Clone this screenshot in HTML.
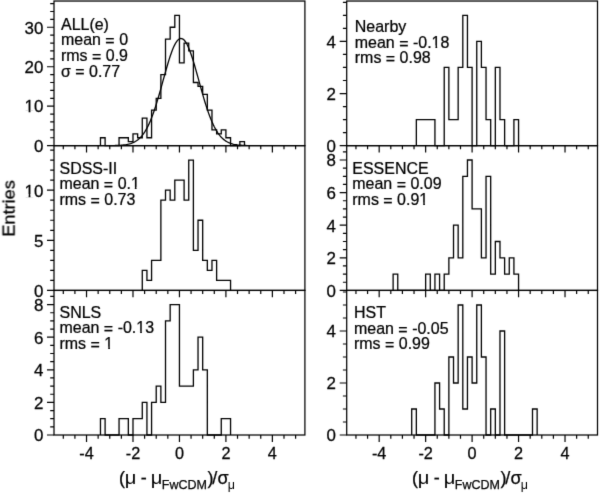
<!DOCTYPE html><html><head><meta charset="utf-8"><style>html,body{margin:0;padding:0;background:#fff;}svg{display:block;filter:grayscale(1);}text{font-family:"Liberation Sans",sans-serif;fill:#000;stroke:#000;stroke-width:0.25px;}</style></head><body>
<svg width="600" height="493" viewBox="0 0 600 493">
<filter id="soft" x="0" y="0" width="600" height="493" filterUnits="userSpaceOnUse" color-interpolation-filters="sRGB"><feConvolveMatrix order="3" kernelMatrix="0.0100 0.0800 0.0100 0.0800 0.6400 0.0800 0.0100 0.0800 0.0100" divisor="1" edgeMode="duplicate"/></filter>
<g filter="url(#soft)">
<rect width="600" height="493" fill="#fff"/>
<path d="M100.47 145.65V137.76H105.11V145.65H109.76V145.65H114.41V145.65H119.05V137.76H123.7V137.76H128.34V141.7H132.99V133.81H137.64V137.76H142.28V118.03H146.93V137.76H151.57V110.14H156.22V98.3H160.87V74.62H165.51V39.11H170.16V27.27H174.8V15.43H179.45V62.78H184.1V43.05H188.74V50.95H193.39V82.51H198.03V86.46H202.68V94.35H207.33V110.14H211.97V129.87H216.62V133.81H221.26V129.87H225.91V137.76H230.56V145.65H235.2V145.65H239.85V141.7H244.49V145.65" fill="none" stroke="#000" stroke-width="1.3" stroke-linejoin="miter"/>
<path d="M416.35 145.65V119.59H420.99V119.59H425.64V119.59H430.29V119.59H434.93V145.65H439.58V145.65H444.22V67.47H448.87V119.59H453.52V119.59H458.16V67.47H462.81V15.35H467.45V67.47H472.1V145.65H476.75V41.41H481.39V67.47H486.04V119.59H490.68V145.65H495.33V67.47H499.98V119.59H504.62V145.65H509.27V145.65H513.91V119.59H518.56V145.65" fill="none" stroke="#000" stroke-width="1.3" stroke-linejoin="miter"/>
<path d="M142.28 290.4V270.36H146.93V280.38H151.57V260.34H156.22V260.34H160.87V200.22H165.51V190.2H170.16V200.22H174.8V180.18H179.45V180.18H184.1V200.22H188.74V160.14H193.39V250.32H198.03V220.26H202.68V260.34H207.33V270.36H211.97V260.34H216.62V280.38H221.26V280.38H225.91V280.38H230.56V290.4" fill="none" stroke="#000" stroke-width="1.3" stroke-linejoin="miter"/>
<path d="M393.12 290.4V274.1H397.76V290.4H402.41V290.4H407.06V290.4H411.7V290.4H416.35V290.4H420.99V290.4H425.64V274.1H430.29V290.4H434.93V274.1H439.58V290.4H444.22V274.1H448.87V257.8H453.52V225.2H458.16V257.8H462.81V176.3H467.45V160H472.1V208.9H476.75V208.9H481.39V257.8H486.04V176.3H490.68V274.1H495.33V241.5H499.98V257.8H504.62V274.1H509.27V257.8H513.91V274.1H518.56V290.4" fill="none" stroke="#000" stroke-width="1.3" stroke-linejoin="miter"/>
<path d="M100.47 435V418.7H105.11V435H109.76V435H114.41V435H119.05V418.7H123.7V418.7H128.34V435H132.99V418.7H137.64V418.7H142.28V402.4H146.93V435H151.57V402.4H156.22V386.1H160.87V402.4H165.51V320.9H170.16V304.6H174.8V304.6H179.45V386.1H184.1V386.1H188.74V386.1H193.39V369.8H198.03V337.2H202.68V369.8H207.33V435H211.97V435H216.62V435H221.26V418.7H225.91V418.7H230.56V435" fill="none" stroke="#000" stroke-width="1.3" stroke-linejoin="miter"/>
<path d="M411.7 435V409H416.35V435H420.99V435H425.64V435H430.29V435H434.93V383H439.58V409H444.22V435H448.87V357H453.52V383H458.16V305H462.81V409H467.45V357H472.1V383H476.75V305H481.39V357H486.04V435H490.68V409H495.33V435H499.98V331H504.62V435H509.27V435H513.91V435H518.56V435H523.21V435H527.85V435H532.5V409H537.14V435" fill="none" stroke="#000" stroke-width="1.3" stroke-linejoin="miter"/>
<clipPath id="c0"><rect x="54" y="1.05" width="250.9" height="144.6"/></clipPath>
<path d="M95.82,145.65 L96.98,145.65 L98.14,145.65 L99.31,145.65 L100.47,145.65 L101.63,145.64 L102.79,145.64 L103.95,145.64 L105.11,145.64 L106.28,145.63 L107.44,145.63 L108.6,145.62 L109.76,145.61 L110.92,145.6 L112.08,145.59 L113.24,145.57 L114.41,145.54 L115.57,145.52 L116.73,145.48 L117.89,145.44 L119.05,145.38 L120.21,145.31 L121.37,145.23 L122.54,145.13 L123.7,145.01 L124.86,144.87 L126.02,144.69 L127.18,144.48 L128.34,144.23 L129.51,143.94 L130.67,143.59 L131.83,143.18 L132.99,142.71 L134.15,142.16 L135.31,141.52 L136.47,140.78 L137.64,139.94 L138.8,138.99 L139.96,137.9 L141.12,136.67 L142.28,135.3 L143.44,133.77 L144.6,132.06 L145.77,130.18 L146.93,128.1 L148.09,125.84 L149.25,123.37 L150.41,120.71 L151.57,117.84 L152.74,114.78 L153.9,111.52 L155.06,108.07 L156.22,104.46 L157.38,100.68 L158.54,96.76 L159.7,92.73 L160.87,88.61 L162.03,84.42 L163.19,80.2 L164.35,75.99 L165.51,71.81 L166.67,67.72 L167.83,63.74 L169,59.92 L170.16,56.31 L171.32,52.93 L172.48,49.83 L173.64,47.04 L174.8,44.6 L175.97,42.54 L177.13,40.87 L178.29,39.63 L179.45,38.82 L180.61,38.46 L181.77,38.55 L182.93,39.09 L184.1,40.07 L185.26,41.49 L186.42,43.32 L187.58,45.54 L188.74,48.12 L189.9,51.04 L191.06,54.25 L192.23,57.73 L193.39,61.43 L194.55,65.31 L195.71,69.34 L196.87,73.47 L198.03,77.67 L199.2,81.89 L200.36,86.1 L201.52,90.26 L202.68,94.36 L203.84,98.35 L205,102.21 L206.16,105.92 L207.33,109.47 L208.49,112.84 L209.65,116.03 L210.81,119.01 L211.97,121.8 L213.13,124.38 L214.29,126.77 L215.46,128.95 L216.62,130.95 L217.78,132.76 L218.94,134.4 L220.1,135.87 L221.26,137.18 L222.43,138.35 L223.59,139.38 L224.75,140.29 L225.91,141.09 L227.07,141.78 L228.23,142.39 L229.39,142.91 L230.56,143.35 L231.72,143.74 L232.88,144.06 L234.04,144.34 L235.2,144.57 L236.36,144.76 L237.52,144.93 L238.69,145.06 L239.85,145.18 L241.01,145.27 L242.17,145.34 L243.33,145.4 L244.49,145.45 L245.66,145.5 L246.82,145.53 L247.98,145.55 L249.14,145.57 L250.3,145.59 L251.46,145.6 L252.62,145.61 L253.79,145.62 L254.95,145.63 L256.11,145.63 L257.27,145.64 L258.43,145.64 L259.59,145.64 L260.75,145.64 L261.92,145.65 L263.08,145.65" fill="none" stroke="#000" stroke-width="1.3" clip-path="url(#c0)"/>
<path d="M47 145.65H54M50.2 137.76H54M50.2 129.87H54M50.2 121.97H54M50.2 114.08H54M47 106.19H54M50.2 98.3H54M50.2 90.41H54M50.2 82.51H54M50.2 74.62H54M47 66.73H54M50.2 58.84H54M50.2 50.95H54M50.2 43.05H54M50.2 35.16H54M47 27.27H54M50.2 19.38H54M50.2 11.49H54M50.2 3.59H54M63.3 145.65V149.35M74.91 145.65V149.35M86.53 145.65V152.55M98.14 145.65V149.35M109.76 145.65V149.35M121.37 145.65V149.35M132.99 145.65V152.55M144.6 145.65V149.35M156.22 145.65V149.35M167.83 145.65V149.35M179.45 145.65V152.55M191.06 145.65V149.35M202.68 145.65V149.35M214.29 145.65V149.35M225.91 145.65V152.55M237.52 145.65V149.35M249.14 145.65V149.35M260.75 145.65V149.35M272.37 145.65V152.55M283.99 145.65V149.35M295.6 145.65V149.35M339.7 145.65H346.7M342.9 132.62H346.7M342.9 119.59H346.7M342.9 106.56H346.7M339.7 93.53H346.7M342.9 80.5H346.7M342.9 67.47H346.7M342.9 54.44H346.7M339.7 41.41H346.7M342.9 28.38H346.7M342.9 15.35H346.7M342.9 2.32H346.7M355.95 145.65V149.35M367.57 145.65V149.35M379.18 145.65V152.55M390.8 145.65V149.35M402.41 145.65V149.35M414.03 145.65V149.35M425.64 145.65V152.55M437.25 145.65V149.35M448.87 145.65V149.35M460.49 145.65V149.35M472.1 145.65V152.55M483.72 145.65V149.35M495.33 145.65V149.35M506.95 145.65V149.35M518.56 145.65V152.55M530.18 145.65V149.35M541.79 145.65V149.35M553.4 145.65V149.35M565.02 145.65V152.55M576.63 145.65V149.35M588.25 145.65V149.35M47 290.4H54M50.2 280.38H54M50.2 270.36H54M50.2 260.34H54M50.2 250.32H54M47 240.3H54M50.2 230.28H54M50.2 220.26H54M50.2 210.24H54M50.2 200.22H54M47 190.2H54M50.2 180.18H54M50.2 170.16H54M50.2 160.14H54M50.2 150.12H54M63.3 290.4V294.1M74.91 290.4V294.1M86.53 290.4V297.3M98.14 290.4V294.1M109.76 290.4V294.1M121.37 290.4V294.1M132.99 290.4V297.3M144.6 290.4V294.1M156.22 290.4V294.1M167.83 290.4V294.1M179.45 290.4V297.3M191.06 290.4V294.1M202.68 290.4V294.1M214.29 290.4V294.1M225.91 290.4V297.3M237.52 290.4V294.1M249.14 290.4V294.1M260.75 290.4V294.1M272.37 290.4V297.3M283.99 290.4V294.1M295.6 290.4V294.1M339.7 290.4H346.7M342.9 282.25H346.7M342.9 274.1H346.7M342.9 265.95H346.7M339.7 257.8H346.7M342.9 249.65H346.7M342.9 241.5H346.7M342.9 233.35H346.7M339.7 225.2H346.7M342.9 217.05H346.7M342.9 208.9H346.7M342.9 200.75H346.7M339.7 192.6H346.7M342.9 184.45H346.7M342.9 176.3H346.7M342.9 168.15H346.7M339.7 160H346.7M342.9 151.85H346.7M355.95 290.4V294.1M367.57 290.4V294.1M379.18 290.4V297.3M390.8 290.4V294.1M402.41 290.4V294.1M414.03 290.4V294.1M425.64 290.4V297.3M437.25 290.4V294.1M448.87 290.4V294.1M460.49 290.4V294.1M472.1 290.4V297.3M483.72 290.4V294.1M495.33 290.4V294.1M506.95 290.4V294.1M518.56 290.4V297.3M530.18 290.4V294.1M541.79 290.4V294.1M553.4 290.4V294.1M565.02 290.4V297.3M576.63 290.4V294.1M588.25 290.4V294.1M47 435H54M50.2 426.85H54M50.2 418.7H54M50.2 410.55H54M47 402.4H54M50.2 394.25H54M50.2 386.1H54M50.2 377.95H54M47 369.8H54M50.2 361.65H54M50.2 353.5H54M50.2 345.35H54M47 337.2H54M50.2 329.05H54M50.2 320.9H54M50.2 312.75H54M47 304.6H54M50.2 296.45H54M63.3 435V438.7M74.91 435V438.7M86.53 435V441.9M98.14 435V438.7M109.76 435V438.7M121.37 435V438.7M132.99 435V441.9M144.6 435V438.7M156.22 435V438.7M167.83 435V438.7M179.45 435V441.9M191.06 435V438.7M202.68 435V438.7M214.29 435V438.7M225.91 435V441.9M237.52 435V438.7M249.14 435V438.7M260.75 435V438.7M272.37 435V441.9M283.99 435V438.7M295.6 435V438.7M339.7 435H346.7M342.9 422H346.7M342.9 409H346.7M342.9 396H346.7M339.7 383H346.7M342.9 370H346.7M342.9 357H346.7M342.9 344H346.7M339.7 331H346.7M342.9 318H346.7M342.9 305H346.7M342.9 292H346.7M355.95 435V438.7M367.57 435V438.7M379.18 435V441.9M390.8 435V438.7M402.41 435V438.7M414.03 435V438.7M425.64 435V441.9M437.25 435V438.7M448.87 435V438.7M460.49 435V438.7M472.1 435V441.9M483.72 435V438.7M495.33 435V438.7M506.95 435V438.7M518.56 435V441.9M530.18 435V438.7M541.79 435V438.7M553.4 435V438.7M565.02 435V441.9M576.63 435V438.7M588.25 435V438.7" fill="none" stroke="#000" stroke-width="1.2"/>
<rect x="54" y="1.05" width="250.9" height="144.6" fill="none" stroke="#000" stroke-width="1.25"/>
<rect x="346.7" y="1.05" width="250.8" height="144.6" fill="none" stroke="#000" stroke-width="1.25"/>
<rect x="54" y="145.65" width="250.9" height="144.75" fill="none" stroke="#000" stroke-width="1.25"/>
<rect x="346.7" y="145.65" width="250.8" height="144.75" fill="none" stroke="#000" stroke-width="1.25"/>
<rect x="54" y="290.4" width="250.9" height="144.6" fill="none" stroke="#000" stroke-width="1.25"/>
<rect x="346.7" y="290.4" width="250.8" height="144.6" fill="none" stroke="#000" stroke-width="1.25"/>
<g transform="translate(43.3 151.95) scale(1.02 1)"><text font-size="16.6" text-anchor="end">0</text></g>
<g transform="translate(43.3 112.49) scale(1.02 1)"><text font-size="16.6" text-anchor="end">10</text><rect x="-17.97" y="-2.30" width="3.57" height="3.40" fill="#fff"/><rect x="-12.62" y="-2.30" width="3.49" height="3.40" fill="#fff"/></g>
<g transform="translate(43.3 73.03) scale(1.02 1)"><text font-size="16.6" text-anchor="end">20</text></g>
<g transform="translate(43.3 33.57) scale(1.02 1)"><text font-size="16.6" text-anchor="end">30</text></g>
<g transform="translate(336 151.95) scale(1.02 1)"><text font-size="16.6" text-anchor="end">0</text></g>
<g transform="translate(336 99.83) scale(1.02 1)"><text font-size="16.6" text-anchor="end">2</text></g>
<g transform="translate(336 47.71) scale(1.02 1)"><text font-size="16.6" text-anchor="end">4</text></g>
<g transform="translate(43.3 296.7) scale(1.02 1)"><text font-size="16.6" text-anchor="end">0</text></g>
<g transform="translate(43.3 246.6) scale(1.02 1)"><text font-size="16.6" text-anchor="end">5</text></g>
<g transform="translate(43.3 196.5) scale(1.02 1)"><text font-size="16.6" text-anchor="end">10</text><rect x="-17.97" y="-2.30" width="3.57" height="3.40" fill="#fff"/><rect x="-12.62" y="-2.30" width="3.49" height="3.40" fill="#fff"/></g>
<g transform="translate(336 296.7) scale(1.02 1)"><text font-size="16.6" text-anchor="end">0</text></g>
<g transform="translate(336 264.1) scale(1.02 1)"><text font-size="16.6" text-anchor="end">2</text></g>
<g transform="translate(336 231.5) scale(1.02 1)"><text font-size="16.6" text-anchor="end">4</text></g>
<g transform="translate(336 198.9) scale(1.02 1)"><text font-size="16.6" text-anchor="end">6</text></g>
<g transform="translate(336 166.3) scale(1.02 1)"><text font-size="16.6" text-anchor="end">8</text></g>
<g transform="translate(43.3 441.3) scale(1.02 1)"><text font-size="16.6" text-anchor="end">0</text></g>
<g transform="translate(43.3 408.7) scale(1.02 1)"><text font-size="16.6" text-anchor="end">2</text></g>
<g transform="translate(43.3 376.1) scale(1.02 1)"><text font-size="16.6" text-anchor="end">4</text></g>
<g transform="translate(43.3 343.5) scale(1.02 1)"><text font-size="16.6" text-anchor="end">6</text></g>
<g transform="translate(43.3 310.9) scale(1.02 1)"><text font-size="16.6" text-anchor="end">8</text></g>
<g transform="translate(336 441.3) scale(1.02 1)"><text font-size="16.6" text-anchor="end">0</text></g>
<g transform="translate(336 389.3) scale(1.02 1)"><text font-size="16.6" text-anchor="end">2</text></g>
<g transform="translate(336 337.3) scale(1.02 1)"><text font-size="16.6" text-anchor="end">4</text></g>
<g transform="translate(86.53 459.0) scale(1.03 1)"><text font-size="15.8" text-anchor="middle">-4</text></g>
<g transform="translate(132.99 459.0) scale(1.03 1)"><text font-size="15.8" text-anchor="middle">-2</text></g>
<g transform="translate(179.45 459.0) scale(1.03 1)"><text font-size="15.8" text-anchor="middle">0</text></g>
<g transform="translate(225.91 459.0) scale(1.03 1)"><text font-size="15.8" text-anchor="middle">2</text></g>
<g transform="translate(272.37 459.0) scale(1.03 1)"><text font-size="15.8" text-anchor="middle">4</text></g>
<g transform="translate(379.18 459.0) scale(1.03 1)"><text font-size="15.8" text-anchor="middle">-4</text></g>
<g transform="translate(425.64 459.0) scale(1.03 1)"><text font-size="15.8" text-anchor="middle">-2</text></g>
<g transform="translate(472.1 459.0) scale(1.03 1)"><text font-size="15.8" text-anchor="middle">0</text></g>
<g transform="translate(518.56 459.0) scale(1.03 1)"><text font-size="15.8" text-anchor="middle">2</text></g>
<g transform="translate(565.02 459.0) scale(1.03 1)"><text font-size="15.8" text-anchor="middle">4</text></g>
<g transform="translate(61 29.9) scale(0.98 1)"><text font-size="16.3">ALL(e)</text></g>
<g transform="translate(61 45.45) scale(0.98 1)"><text font-size="16.3">mean <tspan dy="0.9">=</tspan><tspan dy="-0.9"> </tspan>0</text></g>
<g transform="translate(61 61) scale(0.98 1)"><text font-size="16.3">rms <tspan dy="0.9">=</tspan><tspan dy="-0.9"> </tspan>0.9</text></g>
<g transform="translate(61 76.55) scale(0.98 1)"><text font-size="16.3">σ <tspan dy="0.9">=</tspan><tspan dy="-0.9"> </tspan>0.77</text></g>
<g transform="translate(354.8 32.2) scale(0.98 1)"><text font-size="16.3">Nearby</text></g>
<g transform="translate(354.8 47.75) scale(0.98 1)"><text font-size="16.3">mean <tspan dy="0.9">=</tspan><tspan dy="-0.9"> </tspan>-0.18</text><rect x="78.80" y="-2.30" width="3.50" height="3.40" fill="#fff"/><rect x="84.06" y="-2.30" width="3.42" height="3.40" fill="#fff"/></g>
<g transform="translate(354.8 63.3) scale(0.98 1)"><text font-size="16.3">rms <tspan dy="0.9">=</tspan><tspan dy="-0.9"> </tspan>0.98</text></g>
<g transform="translate(59.5 173.7) scale(0.98 1)"><text font-size="16.3">SDSS-II</text></g>
<g transform="translate(59.5 189.25) scale(0.98 1)"><text font-size="16.3">mean <tspan dy="0.9">=</tspan><tspan dy="-0.9"> </tspan>0.1</text><rect x="73.37" y="-2.30" width="3.50" height="3.40" fill="#fff"/><rect x="78.63" y="-2.30" width="3.42" height="3.40" fill="#fff"/></g>
<g transform="translate(59.5 204.8) scale(0.98 1)"><text font-size="16.3">rms <tspan dy="0.9">=</tspan><tspan dy="-0.9"> </tspan>0.73</text></g>
<g transform="translate(352.3 173.7) scale(0.98 1)"><text font-size="16.3">ESSENCE</text></g>
<g transform="translate(352.3 189.25) scale(0.98 1)"><text font-size="16.3">mean <tspan dy="0.9">=</tspan><tspan dy="-0.9"> </tspan>0.09</text></g>
<g transform="translate(352.3 204.8) scale(0.98 1)"><text font-size="16.3">rms <tspan dy="0.9">=</tspan><tspan dy="-0.9"> </tspan>0.91</text><rect x="68.83" y="-2.30" width="3.50" height="3.40" fill="#fff"/><rect x="74.08" y="-2.30" width="3.42" height="3.40" fill="#fff"/></g>
<g transform="translate(59.5 317.85) scale(0.98 1)"><text font-size="16.3">SNLS</text></g>
<g transform="translate(59.5 333.4) scale(0.98 1)"><text font-size="16.3">mean <tspan dy="0.9">=</tspan><tspan dy="-0.9"> </tspan>-0.13</text><rect x="78.80" y="-2.30" width="3.50" height="3.40" fill="#fff"/><rect x="84.06" y="-2.30" width="3.42" height="3.40" fill="#fff"/></g>
<g transform="translate(59.5 348.95) scale(0.98 1)"><text font-size="16.3">rms <tspan dy="0.9">=</tspan><tspan dy="-0.9"> </tspan>1</text><rect x="46.20" y="-2.30" width="3.50" height="3.40" fill="#fff"/><rect x="51.45" y="-2.30" width="3.42" height="3.40" fill="#fff"/></g>
<g transform="translate(354 318.3) scale(0.98 1)"><text font-size="16.3">HST</text></g>
<g transform="translate(354 333.85) scale(0.98 1)"><text font-size="16.3">mean <tspan dy="0.9">=</tspan><tspan dy="-0.9"> </tspan>-0.05</text></g>
<g transform="translate(354 349.4) scale(0.98 1)"><text font-size="16.3">rms <tspan dy="0.9">=</tspan><tspan dy="-0.9"> </tspan>0.99</text></g>
<g transform="translate(118.88 483.5) scale(1.0 1)"><text font-size="18">(</text></g>
<g transform="translate(124.65 483.5) scale(1.12 1)"><text font-size="18" style="stroke-width:0">μ</text></g>
<g transform="translate(140.7 483.5) scale(1.0 1)"><text font-size="18">-</text></g>
<g transform="translate(150.85 483.5) scale(1.12 1)"><text font-size="18" style="stroke-width:0">μ</text></g>
<g transform="translate(161.87 489.1) scale(1.0 1)"><text font-size="12.5">FwCDM</text></g>
<g transform="translate(207.4 483.5) scale(1.0 1)"><text font-size="18">)</text></g>
<g transform="translate(212.3 483.5) scale(1.0 1)"><text font-size="18">/</text></g>
<g transform="translate(217.5 483.5) scale(1.0 1)"><text font-size="18">σ</text></g>
<g transform="translate(227.76 489.1) scale(1.0 1)"><text font-size="12.5" style="stroke-width:0">μ</text></g>
<g transform="translate(411.88 483.5) scale(1.0 1)"><text font-size="18">(</text></g>
<g transform="translate(417.65 483.5) scale(1.12 1)"><text font-size="18" style="stroke-width:0">μ</text></g>
<g transform="translate(433.7 483.5) scale(1.0 1)"><text font-size="18">-</text></g>
<g transform="translate(443.85 483.5) scale(1.12 1)"><text font-size="18" style="stroke-width:0">μ</text></g>
<g transform="translate(454.87 489.1) scale(1.0 1)"><text font-size="12.5">FwCDM</text></g>
<g transform="translate(500.4 483.5) scale(1.0 1)"><text font-size="18">)</text></g>
<g transform="translate(505.3 483.5) scale(1.0 1)"><text font-size="18">/</text></g>
<g transform="translate(510.5 483.5) scale(1.0 1)"><text font-size="18">σ</text></g>
<g transform="translate(520.76 489.1) scale(1.0 1)"><text font-size="12.5" style="stroke-width:0">μ</text></g>
<g transform="translate(14.6 236.8) rotate(-90) scale(1.14 1)"><text font-size="16">Entries</text></g>
</g></svg></body></html>
